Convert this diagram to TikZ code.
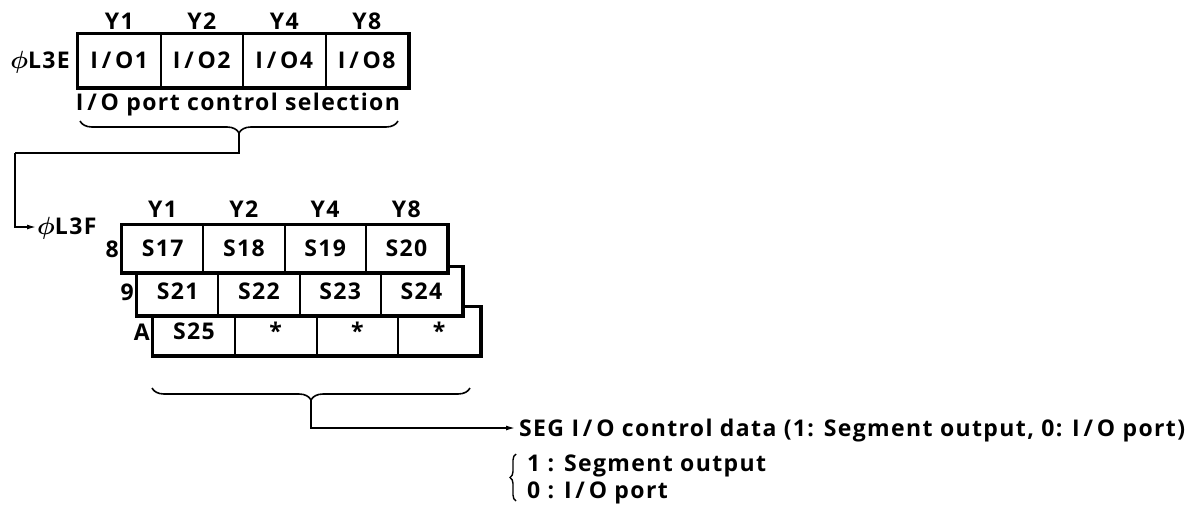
\documentclass[tikz,border=0pt]{standalone}
\usepackage{fontspec}
\setmainfont{Open Sans}[LetterSpace=6]
\usetikzlibrary{arrows.meta,decorations.pathreplacing}
\newcommand\iop{I\,/\,O}
\begin{document}
\begin{tikzpicture}[x=1pt,y=-1pt,
  txt/.style={font=\fontsize{23}{27}\selectfont\bfseries, inner sep=0pt},
  cellbox/.style={draw, line width=2pt, fill=white, inner sep=0pt, font=\fontsize{23}{27}\selectfont\bfseries},
  frame/.style={draw, line width=3pt},
  conn/.style={line width=1.4pt},
  arr/.style={line width=1.4pt, -{Latex[length=9pt,width=5pt]}},
  brc/.style={line width=1.6pt, decorate},
  ]
\useasboundingbox (0,0) rectangle (1193,514);
\fill[white] (0,0) rectangle (1193,514);

% ---------- top register (phi L3E)
\foreach \i/\t [count=\k from 0] in {1/\iop1,2/\iop2,3/\iop4,4/\iop8}{
  \node[cellbox, minimum width=82.5pt, minimum height=53pt] (e\i) at (78+41.25+82.5*\k, 60.5) {\t};
}
\draw[frame] (e1.north west) rectangle (e4.south east);
\foreach \i/\y in {1/Y1,2/Y2,3/Y4,4/Y8}{
  \node[txt, anchor=base] (ey\i) at (e\i.center |- 0,29) {\y};
}
\node[txt, anchor=base east] (phiE) at (70,68) {{\boldmath$\phi$}L3E};
\node[txt, anchor=base] (sel) at (238,110) {\iop{} port control selection};
\draw[brc, decoration={brace, mirror, amplitude=12pt}] (80,121) -- (398,121);
\coordinate (t1) at (239,133);

% ---------- lower register (phi L3F)
% row A
\foreach \i/\t [count=\k from 0] in {1/S25,2/*,3/*,4/*}{
  \node[cellbox, minimum width=81.75pt, minimum height=48pt] (a\i) at (153+40.875+81.75*\k, 331) {\t};
}
\draw[frame] (a1.north west) rectangle (a4.south east);
% row 9
\foreach \i/\t [count=\k from 0] in {1/S21,2/S22,3/S23,4/S24}{
  \node[cellbox, minimum width=81.25pt, minimum height=48pt] (n\i) at (137+40.625+81.25*\k, 291) {\t};
}
\draw[frame] (n1.north west) rectangle (n4.south east);
% row 8
\foreach \i/\t [count=\k from 0] in {1/S17,2/S18,3/S19,4/S20}{
  \node[cellbox, minimum width=81.25pt, minimum height=47pt] (m\i) at (122+40.625+81.25*\k, 248.5) {\t};
}
\draw[frame] (m1.north west) rectangle (m4.south east);
\foreach \i/\y in {1/Y1,2/Y2,3/Y4,4/Y8}{
  \node[txt, anchor=base] (fy\i) at (m\i.center |- 0,217) {\y};
}
\node[txt, anchor=base east] (r8) at (119,257) {8};
\node[txt, anchor=base east] (r9) at (134,300) {9};
\node[txt, anchor=base east] (rA) at (150,340) {A};

\node[txt, anchor=base west] (phiF) at (37,234) {{\boldmath$\phi$}L3F};

% connector from top brace to phi L3F
\coordinate (c1) at (15,153);
\coordinate (a1e) at (36,227);
\draw[conn] (t1) -- (t1 |- c1) -- (c1);
\draw[arr] (c1) |- (a1e);

% bottom brace and output
\draw[brc, decoration={brace, mirror, amplitude=12pt}] (152,388) -- (470,388);
\coordinate (t2) at (311,400);
\coordinate (a2e) at (515,428);
\draw[arr] (t2) |- (a2e);
\node[txt, anchor=base west] (seg) at (519,436) {SEG \iop{} control data (1: Segment output, 0: \iop{} port)};

\draw[brc, line width=1.4pt, decoration={brace, amplitude=6pt}] (516,501) -- (516,454);
\node[txt, anchor=base west] (one) at (527,471) {1 : Segment output};
\node[txt, anchor=base west] (zero) at (527,498) {0 : \iop{} port};
\end{tikzpicture}
\end{document}
